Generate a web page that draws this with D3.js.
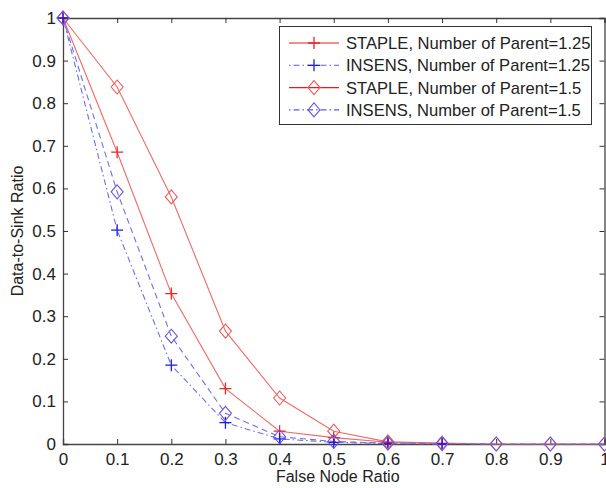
<!DOCTYPE html>
<html><head><meta charset="utf-8">
<script src="https://cdn.jsdelivr.net/npm/d3@7"></script>
<style>body{margin:0;background:#fff;} svg{display:block;} text{font-family:Arial,"Liberation Sans",sans-serif;fill:#222;}</style>
</head><body>
<svg id="c" width="606" height="488"></svg>
<script>
const xTicks = [0,0.1,0.2,0.3,0.4,0.5,0.6,0.7,0.8,0.9,1];
const yTicks = [0,0.1,0.2,0.3,0.4,0.5,0.6,0.7,0.8,0.9,1];
const xPlus = [0,0.1,0.2,0.3,0.4,0.5,0.6,0.7];
const xDiamond = [0,0.1,0.2,0.3,0.4,0.5,0.6,0.7,0.8,0.9,1];
const staple125 = [1,0.685,0.353,0.13,0.03,0.015,0.004,0.001];
const insens125 = [1,0.502,0.185,0.05,0.012,0.004,0.001,0];
const staple15 = [1,0.838,0.58,0.265,0.108,0.03,0.005,0.002,0,0,0];
const insens15 = [1,0.592,0.253,0.072,0.017,0.006,0.002,0.001,0,0,0];
const seriesNames = ["STAPLE, Number of Parent=1.25","INSENS, Number of Parent=1.25","STAPLE, Number of Parent=1.5","INSENS, Number of Parent=1.5"];

const series = [
  {name:seriesNames[0], xs:xPlus, ys:staple125, color:"#e8262b", line:"#ee6a6a", legLine:"#e02020", dash:null, marker:"plus"},
  {name:seriesNames[1], xs:xPlus, ys:insens125, color:"#1a1aee", line:"#7070e6", legLine:"#5a5ae0", dash:"1.5,3,6,3", marker:"plus"},
  {name:seriesNames[2], xs:xDiamond, ys:staple15, color:"#ee5a5a", line:"#ee6a6a", legLine:"#e02020", dash:null, marker:"diamond"},
  {name:seriesNames[3], xs:xDiamond, ys:insens15, color:"#6a55e0", line:"#7070e6", legLine:"#5a5ae0", dash:"6,4", marker:"diamond"}
];

const svg = d3.select("#c");
const L=63, R=604.5, T=18, B=444;
const x = d3.scaleLinear().domain([0,1]).range([L,R]);
const y = d3.scaleLinear().domain([0,1]).range([B,T]);

const axB = d3.axisBottom(x).tickValues(xTicks).tickSize(-5).tickPadding(9).tickFormat(d=>d3.format("")(+d.toFixed(1)));
const axT = d3.axisTop(x).tickValues(xTicks).tickSize(-5).tickFormat("");
const axL = d3.axisLeft(y).tickValues(yTicks).tickSize(-5).tickPadding(7).tickFormat(d=>d3.format("")(+d.toFixed(1)));
const axR = d3.axisRight(y).tickValues(yTicks).tickSize(-5).tickFormat("");
function style(g){g.select(".domain").attr("stroke","#444").attr("stroke-width",1.3);
  g.selectAll(".tick line").attr("stroke","#333");
  g.selectAll("text").attr("font-size",17).attr("fill","#222").attr("font-family","Arial, 'Liberation Sans', sans-serif");}
svg.append("g").attr("transform",`translate(0,${B})`).call(axB).call(style);
svg.append("g").attr("transform",`translate(0,${T})`).call(axT).call(style);
svg.append("g").attr("transform",`translate(${L},0)`).call(axL).call(style);
svg.append("g").attr("transform",`translate(${R},0)`).call(axR).call(style);

const line = d3.line().x(d=>x(d[0])).y(d=>y(d[1]));
function marker(g, type, color, cx, cy){
  if(type==="plus"){
    g.append("path").attr("d",`M${cx-6},${cy}H${cx+6}M${cx},${cy-6}V${cy+6}`).attr("stroke",color).attr("stroke-width",1.3).attr("fill","none");
  } else {
    g.append("path").attr("d",`M${cx},${cy-7}L${cx+6},${cy}L${cx},${cy+7}L${cx-6},${cy}Z`).attr("stroke",color).attr("stroke-width",1.1).attr("fill","none");
  }
}
const plot = svg.append("g");
series.forEach(s=>{
  const pts = s.xs.map((v,i)=>[v,s.ys[i]]);
  plot.append("path").attr("d",line(pts)).attr("fill","none").attr("stroke",s.line).attr("stroke-width",1.1).attr("stroke-dasharray",s.dash);
});
series.forEach(s=>{
  s.xs.forEach((v,i)=>marker(plot,s.marker,s.color,x(v),y(s.ys[i])));
});

const lg = svg.append("g");
lg.append("rect").attr("x",279.5).attr("y",26.5).attr("width",312).attr("height",98).attr("fill","#fff").attr("stroke","#333").attr("stroke-width",1);
series.forEach((s,i)=>{
  const yy = 43 + i*22.3;
  lg.append("line").attr("x1",289).attr("x2",339).attr("y1",yy).attr("y2",yy).attr("stroke",s.legLine).attr("stroke-width",1.1).attr("stroke-dasharray",s.dash?"1.5,3,6,3":null);
  marker(lg,s.marker,s.color,314,yy);
  lg.append("text").attr("x",346).attr("y",yy+6).attr("font-size",16.6).text(s.name);
});

svg.append("text").attr("x",(L+R)/2+4).attr("y",482).attr("text-anchor","middle").attr("font-size",16).text("False Node Ratio");
svg.append("text").attr("transform",`translate(23,${(T+B)/2}) rotate(-90)`).attr("text-anchor","middle").attr("font-size",16).text("Data-to-Sink Ratio");
</script>
</body></html>
